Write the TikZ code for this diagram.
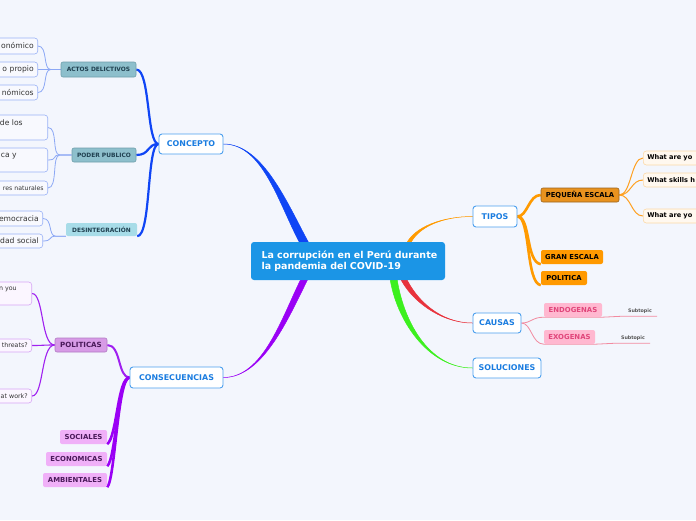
\documentclass[tikz,border=0pt]{standalone}
\usepackage{fontspec}
\setmainfont{DejaVu Sans}
\usetikzlibrary{calc}
\definecolor{bgc}{HTML}{F3F6FD}
\definecolor{centerf}{HTML}{1B95E6}
\definecolor{topicb}{HTML}{4C9FEE}
\definecolor{topict}{HTML}{1A7CE0}
\definecolor{bluebr}{HTML}{0F45F5}
\definecolor{purpbr}{HTML}{9A00F5}
\definecolor{orabr}{HTML}{FF9A00}
\definecolor{redbr}{HTML}{E8323C}
\definecolor{greenbr}{HTML}{3CF01E}
\definecolor{subf}{HTML}{8DBFCC}
\definecolor{subb}{HTML}{6E9EAB}
\definecolor{subt}{HTML}{1F3F4F}
\definecolor{desf}{HTML}{A7DCE8}
\definecolor{leaff}{HTML}{F8F9FE}
\definecolor{leafb}{HTML}{9AB2F6}
\definecolor{leafline}{HTML}{8CA8F5}
\definecolor{leaft}{HTML}{333333}
\definecolor{polf}{HTML}{D79BE6}
\definecolor{polb}{HTML}{B27BC4}
\definecolor{polt}{HTML}{4A1A5A}
\definecolor{socf}{HTML}{F0B0F8}
\definecolor{pleaff}{HTML}{FBF6FF}
\definecolor{pleafb}{HTML}{D7A6F5}
\definecolor{pline}{HTML}{A020F0}
\definecolor{pequef}{HTML}{E8921E}
\definecolor{pequeb}{HTML}{9A6420}
\definecolor{granf}{HTML}{FF9900}
\definecolor{oleaff}{HTML}{FFF8EF}
\definecolor{oleafb}{HTML}{FCD9A8}
\definecolor{oline}{HTML}{FFA020}
\definecolor{endof}{HTML}{FFB8D0}
\definecolor{endot}{HTML}{E0457A}
\definecolor{pinkline}{HTML}{F28BA0}
\definecolor{subtopt}{HTML}{555555}
\pgfdeclarelayer{back}
\pgfdeclarelayer{lines}
\pgfsetlayers{back,lines,main}
\tikzset{
  centerbox/.style={fill=centerf, rounded corners=3pt, text=white, font=\fontsize{9.5}{11.4}\selectfont\bfseries, align=left, inner ysep=0pt},
  topic/.style={draw=topicb, line width=0.9pt, fill=white, rounded corners=3pt, text=topict, font=\fontsize{7.9}{9.5}\selectfont\bfseries, inner sep=0pt},
  subA/.style={draw=subb, line width=0.6pt, fill=subf, rounded corners=2pt, text=subt, font=\fontsize{5.9}{7}\selectfont\bfseries, inner sep=0pt},
  subD/.style={fill=desf, rounded corners=2pt, text=subt, font=\fontsize{5.9}{7}\selectfont\bfseries, inner sep=0pt},
  subP/.style={draw=polb, line width=0.6pt, fill=polf, rounded corners=2pt, text=polt, font=\fontsize{7.1}{8.5}\selectfont\bfseries, inner sep=0pt},
  subS/.style={fill=socf, rounded corners=2pt, text=polt, font=\fontsize{6.9}{8.5}\selectfont\bfseries, inner sep=0pt},
  subO/.style={draw=pequeb, line width=0.6pt, fill=pequef, rounded corners=2pt, text=black, font=\fontsize{6.8}{8.5}\selectfont\bfseries, inner sep=0pt},
  subG/.style={fill=granf, rounded corners=2pt, text=black, font=\fontsize{6.8}{8.5}\selectfont\bfseries, inner sep=0pt},
  subE/.style={fill=endof, rounded corners=2pt, text=endot, font=\fontsize{6.9}{8.5}\selectfont\bfseries, inner sep=0pt},
  leafL/.style={draw=leafb, line width=0.6pt, fill=leaff, rounded corners=3pt, text=leaft, font=\fontsize{7.6}{10}\selectfont, align=right, text width=70, inner xsep=4, inner ysep=0, anchor=east},
  leafP/.style={draw=pleafb, line width=0.6pt, fill=pleaff, rounded corners=3pt, text=leaft, font=\fontsize{6.3}{9}\selectfont, align=right, text width=70, inner xsep=4, inner ysep=0, anchor=east},
  leafO/.style={draw=oleafb, line width=0.6pt, fill=oleaff, rounded corners=3pt, text=black, font=\fontsize{6.6}{8}\selectfont\bfseries, align=left, text width=70, inner xsep=4, inner ysep=0, anchor=west},
  subtop/.style={text=subtopt, font=\fontsize{4.8}{6}\selectfont\bfseries, inner sep=0pt, minimum height=9, minimum width=34},
  bline/.style={draw=bluebr, line width=2.2pt},
  lline/.style={draw=leafline, line width=0.8pt},
  pthick/.style={draw=purpbr, line width=2.6pt},
  pthin/.style={draw=pline, line width=1.1pt},
  othick/.style={draw=orabr, line width=2.6pt},
  othin/.style={draw=oline, line width=1pt},
  pinkl/.style={draw=pinkline, line width=0.8pt}
}
\begin{document}
\begin{tikzpicture}[x=1pt,y=-1pt]
\useasboundingbox (0,0) rectangle (696,520);
\begin{pgfonlayer}{back}
\fill[bgc] (0,0) rectangle (696,520);
\end{pgfonlayer}
\begin{scope}
\clip (0,0) rectangle (696,520);
% central
\node[centerbox, minimum width=194, minimum height=38, text width=173, inner xsep=10.5] (center) at (348,261) {\mbox{La corrupción en el Perú durante}\\\mbox{la pandemia del COVID-19}};
% topics
\node[topic, minimum width=64, minimum height=20] (concepto) at (191,144) {CONCEPTO};
\node[topic, minimum width=93, minimum height=21] (cons) at (176.5,377.5) {CONSECUENCIAS};
\node[topic, minimum width=44, minimum height=21] (tipos) at (495,216.5) {TIPOS};
\node[topic, minimum width=48, minimum height=20] (causas) at (497,323) {CAUSAS};
\node[topic, minimum width=68, minimum height=20] (soluc) at (507,368) {SOLUCIONES};
% concepto subtopics
\node[subA, minimum width=75, minimum height=15] (actos) at (98.5,69.5) {ACTOS DELICTIVOS};
\node[subA, minimum width=64, minimum height=14] (poder) at (104,155) {PODER PUBLICO};
\node[subD, minimum width=71, minimum height=13] (desint) at (101.5,229.5) {DESINTEGRACIÓN};
% concepto leaves
\node[leafL, minimum height=16] (a1) at (38,46) {onómico};
\node[leafL, minimum height=15] (a2) at (38,69.5) {o propio};
\node[leafL, minimum height=15] (a3) at (38,92.5) {nómicos};
\node[leafL, minimum height=25] (b1) at (48,127.5) {\mbox{de los\kern21pt}\\\mbox{}};
\node[leafL, minimum height=24] (b2) at (48,160) {\mbox{ca y\kern27pt}\\\mbox{}};
\node[leafL, minimum height=14, font=\fontsize{6.2}{8}\selectfont] (b3) at (48,188) {res naturales};
\node[leafL, minimum height=15] (c1) at (43,218.5) {emocracia};
\node[leafL, minimum height=14] (c2) at (43,241) {dad social};
% consecuencias subtopics
\node[subP, minimum width=52, minimum height=14] (pol) at (81,345) {POLITICAS};
\node[subS, minimum width=47, minimum height=14] (soc) at (83.5,437) {SOCIALES};
\node[subS, minimum width=61, minimum height=14] (eco) at (76.5,459) {ECONOMICAS};
\node[subS, minimum width=64, minimum height=14] (amb) at (75,480) {AMBIENTALES};
\node[leafP, minimum height=23] (p1) at (32,293.5) {\mbox{n you\kern11pt}\\\mbox{}};
\node[leafP, minimum height=13] (p2) at (32,345.5) {threats?};
\node[leafP, minimum height=14] (p3) at (32,396) {at work?};
% tipos
\node[subO, minimum width=78, minimum height=14] (peq) at (580,195) {PEQUEÑA ESCALA};
\node[subG, minimum width=62, minimum height=14] (gran) at (572,257) {GRAN ESCALA};
\node[subG, minimum width=46, minimum height=14] (polit) at (564,278) {POLITICA};
\node[leafO, minimum height=14] (r1) at (643,158) {What are yo};
\node[leafO, minimum height=14] (r2) at (643,180) {What skills h};
\node[leafO, minimum height=14] (r3) at (643,216) {What are yo};
% causas
\node[subE, minimum width=58, minimum height=14] (endo) at (573,310) {ENDOGENAS};
\node[subE, minimum width=51, minimum height=14] (exo) at (569.5,337) {EXOGENAS};
\node[subtop] (st1) at (640,311.5) {Subtopic};
\node[subtop] (st2) at (633,338.5) {Subtopic};

\begin{pgfonlayer}{lines}
% main tapered branches
\filldraw[bluebr, line width=0.5pt, line join=round] (concepto.east) .. controls +(40,0) and +(-22,-40) .. ($(center.north west)+(50,3)$) -- ($(center.north west)+(59,3)$) .. controls +(-22,-40) and +(40,0) .. (concepto.east) -- cycle;
\filldraw[purpbr, line width=0.5pt, line join=round] (cons.east) .. controls +(40,0) and +(-20,40) .. ($(center.south west)+(51,-3)$) -- ($(center.south west)+(58,-3)$) .. controls +(-20,40) and +(40,0) .. (cons.east) -- cycle;
\filldraw[orabr, line width=0.5pt, line join=round] (tipos.west) .. controls +(-30,0) and +(8,-18) .. ($(center.north west)+(159,3)$) -- ($(center.north west)+(155,3)$) .. controls +(8,-18) and +(-30,0) .. (tipos.west) -- cycle;
\filldraw[redbr, line width=0.5pt, line join=round] (causas.west) .. controls +(-33,0) and +(10,22) .. ($(center.south west)+(155,-3)$) -- ($(center.south west)+(149,-3)$) .. controls +(10,22) and +(-33,0) .. (causas.west) -- cycle;
\filldraw[greenbr, line width=0.5pt, line join=round] (soluc.west) .. controls +(-45,0) and +(6,42) .. ($(center.south west)+(146,-3)$) -- ($(center.south west)+(139,-3)$) .. controls +(6,42) and +(-45,0) .. (soluc.west) -- cycle;
% concepto -> subtopics
\draw[bline] (concepto.west) .. controls +(-12,0) and +(14,0) .. (actos.east);
\draw[bline] (concepto.west) .. controls +(-12,0) and +(14,0) .. (poder.east);
\draw[bline] (concepto.west) .. controls +(-12,0) and +(14,0) .. (desint.south east);
% leaves
\foreach \l in {a1,a2,a3} \draw[lline] (actos.west) -- ++(-10,0) .. controls +(-8,0) and +(10,0) .. (\l.east);
\foreach \l in {b1,b2,b3} \draw[lline] (poder.west) -- ++(-12,0) .. controls +(-8,0) and +(10,0) .. (\l.east);
\foreach \l in {c1,c2} \draw[lline] (desint.south west) -- ++(-10,0) .. controls +(-8,0) and +(10,0) .. (\l.east);
% consecuencias
\draw[pthin, line width=2pt] (cons.west) .. controls +(-12,0) and +(14,0) .. (pol.east);
\draw[pthick] (cons.west) .. controls +(-12,0) and +(10,-8) .. (soc.south east);
\draw[pthick] (cons.west) .. controls +(-12,0) and +(9,-8) .. (eco.south east);
\draw[pthick] (cons.west) .. controls +(-12,0) and +(8,-8) .. (amb.south east);
\foreach \l in {p1,p2,p3} \draw[pthin] (pol.west) .. controls +(-14,0) and +(12,0) .. (\l.east);
% tipos
\draw[othick] (tipos.east) .. controls +(10,0) and +(-12,0) .. (peq.west);
\draw[othick] (tipos.east) .. controls +(13,0) and +(-15,-2) .. (gran.south west);
\draw[othick] (tipos.east) .. controls +(13,0) and +(-15,-2) .. (polit.south west);
\foreach \l in {r1,r2,r3} \draw[othin] (peq.east) .. controls +(12,0) and +(-12,0) .. (\l.west);
% causas
\draw[pinkl] (causas.east) .. controls +(10,0) and +(-12,0) .. (endo.south west) -- (endo.south east) .. controls +(10,0) and +(-10,0) .. (st1.south west) -- (st1.south east);
\draw[pinkl] (causas.east) .. controls +(10,0) and +(-12,0) .. (exo.south west) -- (exo.south east) .. controls +(10,0) and +(-10,0) .. (st2.south west) -- (st2.south east);
\end{pgfonlayer}
\end{scope}
\end{tikzpicture}
\end{document}
